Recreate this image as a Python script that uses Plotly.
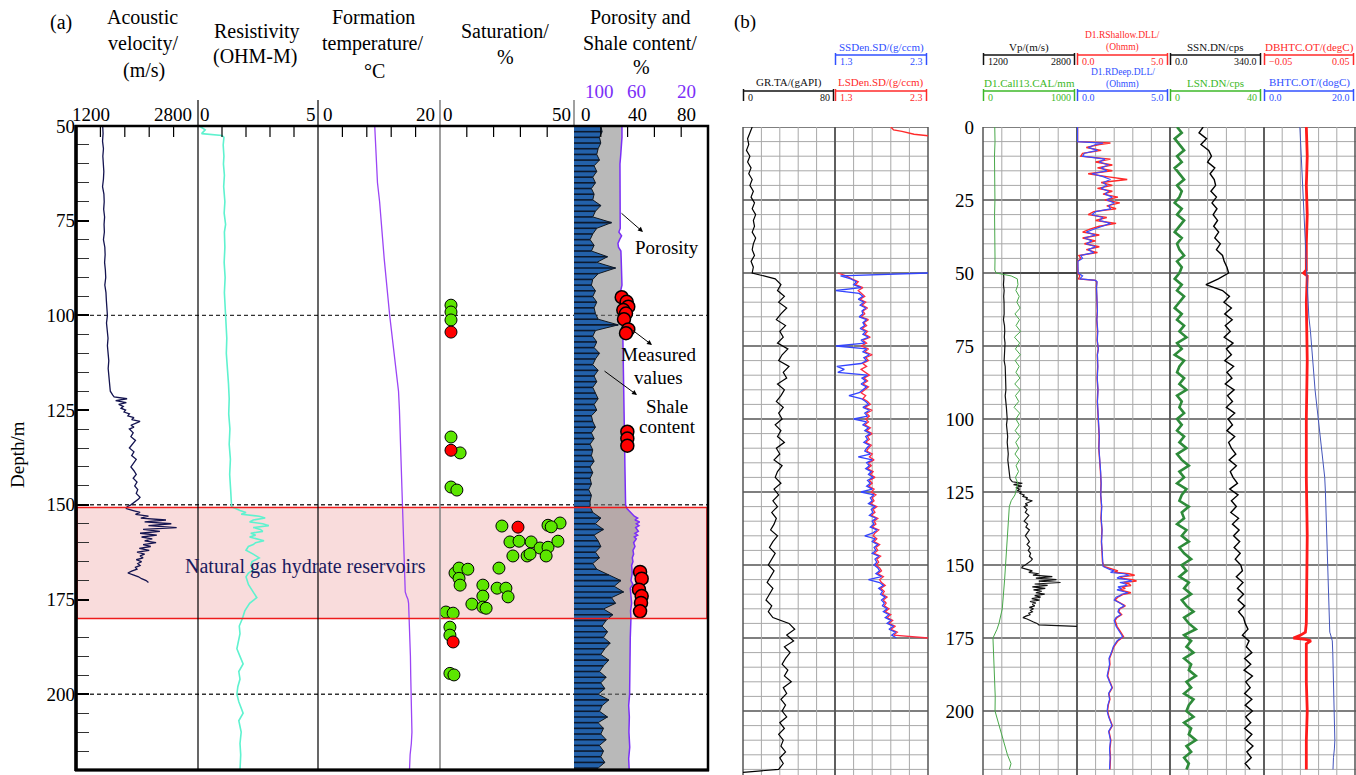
import plotly.graph_objects as go

W, H = 1356, 775
def px(x): return x / W
def py(y): return 1 - y / H
SERIF = "Liberation Serif"

# ===================== DATA =====================
# Acoustic velocity (m/s) vs depth (m) -- panel (a) track 1, also Vp in panel (b)
ac_depth = (list(range(50, 119, 2)) + [119] + [120 + 0.5 * i for i in range(21)]
            + list(range(131, 149)) + [148.5 + 0.5 * i for i in range(45)])
ac_vel = [1550, 1555, 1548, 1560, 1552, 1558, 1565, 1560, 1548, 1566, 1570, 1563, 1575, 1568, 1572,
          1560, 1578, 1582, 1575, 1585, 1590, 1578, 1593, 1598, 1605, 1612, 1600, 1615, 1620, 1612,
          1625, 1630, 1622, 1635, 1640, 1645,
          1650, 1660, 1680, 1700, 1870, 1720, 1860, 1760, 1820, 1790, 1850, 1830, 1900, 1880, 1960,
          1930, 2040, 1980, 1920, 1960, 1900,
          1950, 1920, 1980, 1940, 1900, 1960, 1930, 1990, 1950, 1920, 1960, 1990, 1950, 2000, 1970,
          2010, 1990, 2040,
          2020, 1990, 1950, 1920, 1870, 1860, 1950, 2040, 1980, 2150, 2050, 2380, 2100, 2450, 2150,
          2520, 2080, 2300, 2040, 2260, 2060, 2200, 2100, 2250, 2080, 2180, 2030, 2160, 2000, 2100,
          2040, 2080, 1990, 2060, 2010, 2040, 1980, 2000, 1930, 1880, 1950, 2020, 2060, 2120, 2150]

# Resistivity (Ohm-m): deep (blue, also panel (a)) and shallow (red)
res_depth = ([0, 5, 5.5, 6] + list(range(7, 27)) + list(range(27, 46))
             + [46, 48, 50, 51, 52, 52.5, 53, 55, 58, 60, 63, 66, 70, 73, 76, 78]
             + [82, 86, 90, 94, 98, 102, 106, 110, 114, 118, 122, 126, 130, 134, 138, 142, 146, 149]
             + [150.5, 151.5, 152, 152.5, 153, 153.5, 154, 154.5, 155, 155.5, 156, 156.5, 157, 157.5,
                158, 158.5, 159, 159.5, 160, 160.5, 161]
             + [162, 163, 164, 165, 166, 167, 168, 169, 170, 171]
             + [172.5, 174.5, 176, 178, 180, 182, 184, 186, 188, 190, 192, 194, 196, 198, 200, 202,
                205, 207, 210, 213, 216, 220])
res_deep = ([0.03, 0.03, 1.4, 1.0]
            + [0.6, 1.1, 0.4, 0.3, 1.5, 1.2, 1.7, 1.3, 1.6, 0.8, 1.4, 1.8, 1.4, 1.6, 1.3, 1.7, 1.5, 1.9, 1.6, 2.0]
            + [1.7, 1.8, 1.0, 0.8, 1.4, 1.2, 1.8, 1.3, 0.9, 0.5, 1.0, 0.4, 0.8, 0.5, 1.0, 0.6, 0.9, 0.2, 0.3]
            + [0.05, 0.05, 0.06, 0.3, 0.15, 1.0, 1.08, 1.05, 1.08, 1.06, 1.1, 1.07, 1.12, 1.09, 1.15, 1.1]
            + [1.12, 1.09, 1.13, 1.1, 1.14, 1.16, 1.2, 1.18, 1.24, 1.27, 1.3, 1.28, 1.33, 1.3, 1.35, 1.32, 1.36, 1.38]
            + [1.4, 1.75, 2.0, 1.8, 2.55, 2.8, 2.3, 2.15, 2.7, 2.95, 2.3, 2.6, 2.7, 2.2, 2.4, 2.15, 2.5, 2.75, 2.4, 2.3, 2.1]
            + [2.0, 2.3, 2.55, 2.25, 2.2, 2.35, 2.1, 2.0, 2.05, 2.1]
            + [2.25, 2.45, 2.15, 1.95, 1.85, 1.72, 1.75, 1.68, 1.62, 1.75, 1.88, 1.7, 1.75, 1.66, 1.62, 1.7,
               1.88, 1.7, 1.8, 1.75, 1.78, 1.75])
res_shallow = ([0.03, 0.03, 1.8, 1.2]
               + [0.5, 1.3, 0.3, 0.2, 1.8, 1.0, 1.9, 1.1, 1.9, 0.6, 1.6, 2.7, 1.3, 1.9, 1.1, 1.9, 1.4, 2.2, 1.5, 2.3]
               + [1.6, 2.1, 0.9, 0.6, 1.6, 1.0, 2.1, 1.2, 0.7, 0.3, 1.2, 0.3, 1.0, 0.4, 1.2, 0.5, 1.1, 0.1, 0.2]
               + [0.03, 0.03, 0.05, 0.15, 0.08, 0.95, 1.06, 1.04, 1.07, 1.05, 1.09, 1.06, 1.1, 1.08, 1.14, 1.09]
               + [1.11, 1.08, 1.12, 1.09, 1.13, 1.15, 1.19, 1.17, 1.23, 1.26, 1.29, 1.27, 1.32, 1.29, 1.34, 1.31, 1.35, 1.37]
               + [1.45, 1.9, 2.2, 2.0, 2.8, 3.1, 2.5, 2.3, 3.0, 3.2, 2.5, 2.8, 2.9, 2.4, 2.6, 2.3, 2.6, 2.9, 2.5, 2.35, 2.2]
               + [2.05, 2.35, 2.6, 2.3, 2.25, 2.4, 2.15, 2.05, 2.1, 2.15]
               + [2.3, 2.5, 2.2, 1.98, 1.87, 1.75, 1.77, 1.7, 1.65, 1.77, 1.9, 1.72, 1.77, 1.68, 1.64, 1.72,
                  1.9, 1.72, 1.82, 1.77, 1.8, 1.77])

# Formation temperature (degC) -- panel (a) and BHTC in panel (b)
temp_depth = [0, 10, 20, 30, 40, 50, 55, 60, 65, 70, 75, 80, 85, 90, 95, 100, 105, 110, 115, 120, 125,
              130, 135, 140, 145, 150, 155, 160, 165, 170, 173, 174, 175, 176, 180, 185, 190, 195, 200,
              205, 210, 213, 216, 220]
temp_val = [7.8, 8.1, 8.4, 8.7, 8.95, 9.25, 9.35, 9.5, 9.75, 10.1, 10.4, 10.6, 10.85, 11.1, 11.45, 11.75,
            12.1, 12.5, 12.9, 13.2, 13.35, 13.45, 13.55, 13.65, 13.8, 13.9, 14.0, 14.05, 14.1, 14.2,
            14.3, 14.5, 14.75, 14.85, 14.95, 15.05, 15.15, 15.2, 15.25, 15.35, 15.4, 15.3, 15.1, 15.0]

# Saturation (%)
sat_green_depth = [97.3, 99.1, 101.2, 132.1, 136.3, 145.3, 146.1, 155.6, 155.4, 154.8, 155.8,
                   159.8, 159.6, 159.8, 161.4, 161.2, 159.6, 163.5, 163.5, 163.0, 163.5,
                   168.0, 166.7, 167.0, 166.7, 169.4, 171.2, 171.2, 172.0, 172.0, 174.3, 174.1,
                   176.2, 177.0, 177.3, 178.3, 178.6, 182.3, 184.4, 194.5, 194.9]
sat_green_val = [4.1, 4.1, 4.1, 4.1, 7.5, 4.1, 6.3, 23.1, 40.3, 44.8, 41.5,
                 26.1, 29.5, 34.0, 37.3, 40.3, 44.0, 27.2, 32.5, 33.6, 39.6,
                 5.6, 7.1, 10.4, 22.0, 7.1, 7.5, 16.0, 21.3, 24.6, 25.4, 16.0,
                 11.9, 16.0, 17.2, 2.2, 4.9, 3.7, 3.7, 3.7, 5.2]
sat_red_depth = [104.4, 135.6, 155.9, 186.2]
sat_red_val = [4.1, 4.1, 29.1, 4.9]

# Porosity (%) -- blue bars
por_depth = [50 + 1.5 * i for i in range(114)]
por_val = [20, 21, 19, 20, 18, 17, 19,
           15, 17, 14, 16, 13, 15, 14,
           20, 16, 14, 28, 17, 14,
           12, 15, 13, 25, 17, 31, 18,
           14, 13, 16, 14, 17, 15, 16,
           18, 33, 16, 14, 17, 15, 19,
           16, 14, 18, 15, 17, 14, 16,
           18, 15, 17, 13, 14, 16, 13,
           15, 12, 14, 13, 15, 12, 14,
           12, 13, 11, 13, 12, 12, 14,
           20, 16, 22, 15, 18, 20, 16,
           19, 14, 17, 26, 35, 30, 37,
           28, 31, 22, 29, 24, 21, 25,
           22, 27, 23, 20, 26, 22, 19,
           24, 20, 23, 18, 26, 21, 19,
           25, 18, 22, 20, 24, 19, 22,
           20, 23, 18]
# Shale content curve (purple) on the 0-100 track scale
shale_depth = [50, 53, 56, 58, 60, 65, 70, 75, 77, 78, 79, 80, 81, 82, 83, 85, 88, 90, 92, 94, 96, 100,
               105, 110, 115, 120, 125, 130, 135, 140, 145, 150, 151, 152, 153, 153.5, 154, 154.5, 155,
               155.5, 156, 157, 157.5, 158, 158.5, 159, 160, 161, 162, 163, 164, 165, 166, 168, 170,
               171, 172, 174, 176, 178, 180, 185, 190, 195, 200, 203, 206, 210, 214, 217, 220]
shale_val = [35.8, 35.8, 35.5, 34.8, 34.3, 34.3, 34.2, 34.3, 34.5, 33.5, 35.5, 34.0, 32.8, 33.2, 35.0,
             35.2, 35.3, 35.3, 35.8, 34.5, 35.6, 36.2, 36.5, 36.7, 37.0, 37.2, 37.4, 37.5, 37.8, 38.0,
             38.3, 38.5, 39.5, 42.5, 45.0, 47.5, 45.5, 49.0, 46.5, 48.5, 46.0, 48.0, 45.5, 47.5, 45.0,
             46.5, 44.5, 45.5, 44.0, 44.5, 43.5, 44.0, 43.0, 43.5, 42.5, 44.0, 42.0, 42.5, 43.0, 42.2,
             42.5, 42.0, 41.8, 41.2, 41.5, 40.8, 41.3, 41.0, 41.6, 40.8, 41.2]
# Measured values (red dots in porosity track)
meas_depth = [95.2, 96.4, 97.7, 98.6, 99.5, 101.0, 103.7, 104.7, 130.7, 132.5, 134.4,
              167.7, 169.5, 172.4, 174.1, 175.9, 178.1]
meas_val = [35.6, 39.3, 40.5, 36.8, 38.8, 37.3, 40.5, 38.8, 39.8, 39.8, 39.8,
            49.3, 50.5, 48.5, 50.5, 50.0, 49.3]

# ---- panel (b) logs ----
log_depth = list(range(0, 221, 2))
gr_val = [8, 6, 4, 5, 3, 6, 4, 7, 5, 8, 6, 9, 7, 10, 8, 11, 9, 10, 8, 11, 9, 8, 10, 7, 9, 8,
          28, 33, 30, 36, 31, 38, 33, 29, 37, 32, 35, 30, 39, 34, 31, 40, 35, 38, 30, 36, 33, 29, 35, 31, 34,
          28, 33, 30, 36, 29, 32, 27, 34, 30, 28, 33, 27, 31, 26, 30, 25, 29, 27, 24, 30, 26, 23, 28, 25, 22,
          27, 24, 21, 26, 23, 20, 25, 22, 26,
          40, 45, 38, 44, 36, 41, 37, 34, 39, 36, 42, 35, 38, 33, 37, 34, 38, 32, 36, 31, 35, 33, 37, 32, 35, 31]
ssn_val = [120, 105, 132, 112, 140, 150, 136, 162, 145, 160, 165, 148, 168, 152, 170, 156, 172, 158, 176,
           162, 182, 168, 190, 196, 206, 212,
           175, 130, 190, 215, 195, 222, 198, 225, 200, 218, 196, 228, 204, 222, 198, 230, 206, 224, 200,
           232, 208, 226, 204, 234, 210,
           226, 206, 234, 212, 222, 238, 214, 240, 218, 228, 244, 216, 246, 222, 240, 220, 248, 226, 250,
           230, 252, 232, 254, 236, 256,
           262, 240, 264, 244, 266, 246, 270, 248, 266,
           272, 282, 262, 286, 276, 296, 270, 292, 268, 298, 274, 290, 270, 296, 272, 298, 274, 292, 270,
           296, 276, 300, 278, 294, 272, 290]
lsn_val = [3, 5, 2, 4, 6, 3, 5, 2, 4, 6, 3, 5, 4, 2, 5, 3, 6, 4, 2, 5, 3, 4, 6, 3, 5, 4,
           2, 5, 3, 6, 4, 2, 5, 3, 6, 4, 7, 3, 5, 2, 6, 4, 3, 6, 4, 7, 3, 5, 4, 6, 3,
           5, 3, 6, 4, 7, 3, 5, 8, 4, 6, 3, 7, 5, 4, 8, 5, 6, 3, 7, 5, 8, 4, 6, 9, 5,
           7, 4, 8, 6, 9, 5, 7, 10, 6,
           8, 11, 6, 9, 7, 10, 6, 9, 8, 11, 7, 9, 6, 10, 8, 7, 10, 6, 9, 8, 11, 7, 9, 6, 8, 7]

dens_depth = [50] + list(range(51, 176))
lsden_val = [1.33, 1.42, 1.48, 1.55, 1.52, 1.60, 1.55, 1.58, 1.62, 1.57, 1.63, 1.59, 1.65, 1.60, 1.62, 1.58,
             1.66, 1.61, 1.64, 1.59, 1.65, 1.62, 1.68, 1.60, 1.64, 1.58, 1.66, 1.62, 1.70, 1.63, 1.66, 1.60,
             1.64, 1.58, 1.62, 1.67, 1.61, 1.65, 1.60, 1.66, 1.62, 1.58, 1.63, 1.60, 1.65, 1.68, 1.62, 1.70,
             1.64, 1.67, 1.63,
             1.66, 1.62, 1.68, 1.64, 1.70, 1.65, 1.67, 1.63, 1.69, 1.66, 1.64, 1.70, 1.67, 1.72, 1.66, 1.69,
             1.65, 1.71, 1.68, 1.73, 1.67, 1.70, 1.66, 1.72, 1.69,
             1.74, 1.70, 1.72, 1.68, 1.75, 1.71, 1.73, 1.69, 1.76, 1.72, 1.74, 1.70, 1.77, 1.73, 1.71, 1.75,
             1.72, 1.78, 1.74, 1.76, 1.72, 1.79, 1.75, 1.77, 1.74,
             1.78, 1.80, 1.76, 1.82, 1.78, 1.80, 1.84, 1.79, 1.83, 1.81, 1.86, 1.82, 1.85, 1.83, 1.88, 1.84,
             1.90, 1.86, 1.92, 1.88, 1.95, 1.90, 1.97, 1.93, 2.30]
ssden_val = [2.30, 1.36, 1.47, 1.53, 1.50, 1.58, 1.31, 1.56, 1.60, 1.55, 1.61, 1.57, 1.63, 1.59, 1.60, 1.56,
             1.64, 1.60, 1.62, 1.57, 1.63, 1.60, 1.66, 1.58, 1.62, 1.31, 1.64, 1.60, 1.67, 1.61, 1.64, 1.58,
             1.32, 1.40, 1.33, 1.65, 1.59, 1.63, 1.58, 1.64, 1.60, 1.56, 1.45, 1.58, 1.63, 1.66, 1.60, 1.67,
             1.62, 1.65, 1.50,
             1.64, 1.60, 1.66, 1.62, 1.68, 1.63, 1.65, 1.61, 1.67, 1.64, 1.62, 1.68, 1.55, 1.70, 1.64, 1.67,
             1.63, 1.69, 1.66, 1.71, 1.65, 1.68, 1.64, 1.70, 1.58,
             1.72, 1.68, 1.70, 1.66, 1.73, 1.69, 1.71, 1.67, 1.74, 1.70, 1.72, 1.68, 1.75, 1.71, 1.62, 1.73,
             1.70, 1.76, 1.72, 1.74, 1.70, 1.77, 1.73, 1.75, 1.72,
             1.76, 1.78, 1.74, 1.80, 1.66, 1.78, 1.82, 1.77, 1.81, 1.79, 1.84, 1.80, 1.83, 1.81, 1.86, 1.82,
             1.88, 1.84, 1.90, 1.86, 1.93, 1.88, 1.95, 1.91, 1.96]
lsden_top_depth = [0, 1, 1.5, 2, 2.5, 3]
lsden_top_val = [1.90, 1.93, 2.02, 2.08, 2.15, 2.30]

cal_depth = [0, 5, 10, 15, 20, 25, 30, 35, 40, 45, 49, 50, 51] + list(range(52, 125, 2)) + \
            [126, 128, 130, 135, 140, 145, 150, 155, 160, 165, 170, 172, 175, 178, 182, 186, 190,
             195, 200, 205, 210, 215, 218, 220]
cal_val = [125, 128, 122, 126, 124, 127, 123, 126, 125, 128, 126, 140, 300,
           365, 372, 350, 385, 360, 395, 340, 388, 352, 400, 335, 390, 345, 398, 342, 385, 350, 392, 338,
           396, 345, 380, 330, 390, 350, 385, 342, 392, 348, 380, 340, 388, 352, 378, 345, 370, 355,
           340, 300, 280, 270, 262, 255, 240, 230, 220, 205, 170, 149, 106, 110, 120, 125, 128,
           130, 128, 170, 220, 260, 298, 280]

db_depth = [0, 10, 20, 30, 40, 49, 50, 51, 60, 80, 100, 120, 140, 160, 170, 173, 174, 175, 175.5, 176,
            177, 190, 200, 210, 220]
db_val = [-0.004, -0.003, -0.004, -0.003, -0.004, -0.004, -0.007, -0.003, -0.004, -0.003, -0.004, -0.004,
          -0.003, -0.004, -0.004, -0.005, -0.010, -0.018, -0.005, 0.001, -0.004, -0.004, -0.003, -0.004,
          -0.004]

# ===================== FIGURE =====================
fig = go.Figure()
BLUE, RED, GREEN, BLACK = "#3050ff", "#ff2a2a", "#3cb828", "#111111"
PURPLE = "#7B2FF7"

def line_tr(x, y, xa, ya, color, width, **kw):
    fig.add_trace(go.Scatter(x=x, y=y, xaxis=xa, yaxis=ya, mode="lines",
                             line=dict(color=color, width=width), hoverinfo="skip", **kw))

# ---- panel (a) ----
line_tr(ac_vel, ac_depth, "x", "y", "#141450", 1.3)
line_tr(res_deep, res_depth, "x2", "y", "#5ff2cf", 1.6)
line_tr(temp_val, temp_depth, "x3", "y", "#9B45F5", 1.3)
fig.add_trace(go.Scatter(x=sat_green_val, y=sat_green_depth, xaxis="x4", yaxis="y", mode="markers",
                         marker=dict(size=12, color="#5CE600", line=dict(color="black", width=1))))
fig.add_trace(go.Scatter(x=sat_red_val, y=sat_red_depth, xaxis="x4", yaxis="y", mode="markers",
                         marker=dict(size=12, color="#FF0000", line=dict(color="black", width=1))))
# porosity track
fig.add_trace(go.Scatter(x=[0] + shale_val + [0], y=[shale_depth[0]] + shale_depth + [shale_depth[-1]],
                         xaxis="x5", yaxis="y", mode="lines", fill="toself",
                         fillcolor="rgba(128,128,128,0.55)", line=dict(color=PURPLE, width=1.5)))
fig.add_trace(go.Scatter(x=por_val, y=por_depth, xaxis="x5", yaxis="y", mode="lines", fill="tozerox",
                         fillcolor="#2361AA", line=dict(color="#101820", width=1)))
sx, sy = [], []
for d, p in zip(por_depth, por_val):
    sx += [0, p, None]
    sy += [d, d, None]
line_tr(sx, sy, "x5", "y", "#0d1a2e", 1.6)
fig.add_trace(go.Scatter(x=meas_val, y=meas_depth, xaxis="x5", yaxis="y", mode="markers",
                         marker=dict(size=13, color="#FF0000", line=dict(color="black", width=1.5))))

# ---- panel (b) ----
line_tr(gr_val + [0], log_depth + [221], "x6", "y3", "#000000", 1.2)
line_tr(lsden_top_val, lsden_top_depth, "x7", "y3", RED, 1.5)
line_tr(lsden_val, dens_depth, "x7", "y3", "#ff2a40", 1.3)
line_tr(ssden_val, dens_depth, "x7", "y3", "#3344ff", 1.3)
line_tr([2800] + ac_vel + [2800], [50] + ac_depth + [171], "x8", "y2", "#111111", 1.2)
line_tr(cal_val, cal_depth, "x9", "y2", "#49a84a", 1.0)
line_tr(res_shallow, res_depth, "x10", "y2", "#ff2a2a", 1.4)
line_tr(res_deep, res_depth, "x10", "y2", "#3a4cff", 1.2)
line_tr(lsn_val, log_depth, "x12", "y2", "#2e8b3a", 2.6)
line_tr(ssn_val, log_depth, "x11", "y2", "#000000", 1.4)
line_tr(db_val, db_depth, "x13", "y2", "#ff1a1a", 2.8)
line_tr(temp_val, temp_depth, "x14", "y2", "#4455bb", 1.0)

# ---- axes ----
def hx(d0, d1, rng, anchor):
    return dict(domain=[px(d0), px(d1)], range=rng, anchor=anchor, visible=False, fixedrange=True)

axes = dict(
    xaxis=hx(76, 198, [1200, 2800], "y"),
    xaxis2=hx(198, 318, [0, 5], "y"),
    xaxis3=hx(318, 440, [0, 20], "y"),
    xaxis4=hx(440, 574, [0, 50], "y"),
    xaxis5=hx(574, 708, [0, 100], "y"),
    xaxis6=hx(743, 835, [0, 80], "y3"),
    xaxis7=hx(835, 928, [1.3, 2.3], "y3"),
    xaxis8=hx(983, 1077, [1200, 2800], "y2"),
    xaxis9=hx(983, 1077, [0, 1000], "y2"),
    xaxis10=hx(1077, 1170, [0, 5], "y2"),
    xaxis11=hx(1170, 1264, [0, 340], "y2"),
    xaxis12=hx(1170, 1264, [0, 40], "y2"),
    xaxis13=hx(1264, 1356, [-0.05, 0.05], "y2"),
    xaxis14=hx(1264, 1356, [0, 20], "y2"),
)
tf = dict(family=SERIF, size=19, color="black")
axes["yaxis"] = dict(domain=[py(770), py(126)], range=[220, 50], anchor="x",
                     tickmode="array", tickvals=[50, 75, 100, 125, 150, 175, 200],
                     ticks="inside", ticklen=13, tickwidth=1.5, tickcolor="black",
                     minor=dict(tickmode="array", tickvals=[d for d in range(55, 220, 5) if d % 25],
                                ticks="inside", ticklen=13, tickwidth=1.3, tickcolor="#333"),
                     showgrid=False, zeroline=False, showline=False, tickfont=tf, fixedrange=True)
bmax = (775 - 127) / 2.92
axes["yaxis2"] = dict(domain=[0, py(127)], range=[bmax, 0], anchor="x8",
                      tickmode="array", tickvals=[0, 25, 50, 75, 100, 125, 150, 175, 200],
                      ticks="", showgrid=False, zeroline=False, showline=False, tickfont=tf,
                      ticklabelstandoff=8, fixedrange=True)
axes["yaxis3"] = dict(domain=[0, py(127)], range=[bmax, 0], anchor="x6", visible=False, fixedrange=True)

# ---- shapes ----
shapes = []
def pline(x0, y0, x1, y1, color, width, dash=None, layer="above"):
    shapes.append(dict(type="line", xref="paper", yref="paper", x0=px(x0), y0=py(y0), x1=px(x1), y1=py(y1),
                       line=dict(color=color, width=width, dash=dash), layer=layer))

# pink reservoir band (fill below, border above)
shapes.append(dict(type="rect", xref="paper", yref="y", x0=px(76), x1=px(708), y0=150.7, y1=180,
                   fillcolor="#F9DCDC", line=dict(width=0), layer="below"))
shapes.append(dict(type="rect", xref="paper", yref="y", x0=px(77), x1=px(707), y0=150.7, y1=180,
                   line=dict(color="#ee1c1c", width=1.5), layer="above"))
# dashed depth lines
for d in [100, 150, 200]:
    shapes.append(dict(type="line", xref="paper", yref="y", x0=px(76), x1=px(708), y0=d, y1=d,
                       line=dict(color="#333333", width=1.4, dash="4px,3px"), layer="below"))
# track boundaries (extend above frame)
pline(198, 100, 198, 770, "black", 1.2)
pline(318, 100, 318, 770, "black", 1.2)
pline(440, 100, 440, 770, "#808080", 1.5)
pline(574, 100, 574, 126, "#808080", 1.5)
# top ticks of each track
tick_sets = [("x", [1520, 1840, 2160, 2480]), ("x2", [1, 2, 3, 4]), ("x3", [4, 8, 12, 16]),
             ("x4", [10, 20, 30, 40]), ("x5", [20, 40, 60, 80])]
for xr, vals in tick_sets:
    for v in vals:
        shapes.append(dict(type="line", xref=xr, yref="paper", x0=v, x1=v, y0=py(126), y1=py(137),
                           line=dict(color="black", width=1.2), layer="above"))
# frame of panel (a)
shapes.append(dict(type="rect", xref="paper", yref="paper", x0=px(76), x1=px(708), y0=py(770), y1=py(126),
                   line=dict(color="black", width=2.5), layer="above"))
pline(76, 125, 76, 771, "black", 3.5)
pline(75, 770, 709, 770, "black", 3)

# panel (b) grid
for gx0, gx1 in [(743, 928), (983, 1356)]:
    for d in range(0, 221, 5):
        major = d % 25 == 0
        shapes.append(dict(type="line", xref="paper", yref="y2", x0=px(gx0), x1=px(gx1), y0=d, y1=d,
                           line=dict(color="#555555" if major else "#a8a8a8", width=1.5 if major else 1),
                           layer="below"))
for tx0, tx1 in [(743, 835), (835, 928), (983, 1077), (1077, 1170), (1170, 1264), (1264, 1355)]:
    for k in range(6):
        xx = tx0 + k * (tx1 - tx0) / 5
        edge = k in (0, 5)
        shapes.append(dict(type="line", xref="paper", yref="paper", x0=px(xx), x1=px(xx), y0=py(127), y1=0,
                           line=dict(color="#555555" if edge else "#a8a8a8", width=1.5 if edge else 1),
                           layer="below"))

# panel (b) header bars
TOPB, BOTB = 55, 91
hdr = [
    (["SSDen.SD/(g/ccm)"], BLUE, 835, 927, TOPB, "1.3", "2.3"),
    (["GR.TA/(gAPI)"], BLACK, 743, 834, BOTB, "0", "80"),
    (["LSDen.SD/(g/ccm)"], RED, 835, 927, BOTB, "1.3", "2.3"),
    (["Vp/(m/s)"], BLACK, 983, 1075, TOPB, "1200", "2800"),
    (["D1.RShallow.DLL/", "(Ohmm)"], RED, 1077, 1168, TOPB, "0.0", "5.0"),
    (["SSN.DN/cps"], BLACK, 1170, 1261, TOPB, "0.0", "340.0"),
    (["DBHTC.OT/(degC)"], RED, 1264, 1354, TOPB, "\u22120.05", "0.05"),
    (["D1.Call13.CAL/mm"], GREEN, 983, 1075, BOTB, "0", "1000"),
    (["D1.RDeep.DLL/", "(Ohmm)"], BLUE, 1077, 1168, BOTB, "0.0", "5.0"),
    (["LSN.DN/cps"], GREEN, 1170, 1261, BOTB, "0", "40"),
    (["BHTC.OT/(dogC)"], BLUE, 1264, 1354, BOTB, "0.0", "20.0"),
]
annotations = []
def ann(text, x, y, size, color="black", xanchor="center", **kw):
    annotations.append(dict(text=text, x=px(x), y=py(y), xref="paper", yref="paper", showarrow=False,
                            xanchor=xanchor, yanchor="middle", font=dict(family=SERIF, size=size, color=color),
                            **kw))

for names, col, x0, x1, by, lo, hi in hdr:
    pline(x0, by, x1, by, col, 1.5)
    pline(x0 + 0.5, by - 2, x0 + 0.5, by + 10, col, 1.5)
    pline(x1 - 0.5, by - 2, x1 - 0.5, by + 10, col, 1.5)
    if len(names) == 1:
        ann(names[0], (x0 + x1) / 2, by - 8, 11, col)
    else:
        ann(names[0], (x0 + x1) / 2, by - 19.5, 9.5, col)
        ann(names[1], (x0 + x1) / 2, by - 7, 9.5, col)
    ann(lo, x0 + 3, by + 6.5, 10, col, xanchor="left")
    ann(hi, x1 - 2, by + 6.5, 10, col, xanchor="right")

# panel (a) header texts
for t, x, y in [("(a)", 61, 22), ("Acoustic", 142, 17), ("velocity/", 143, 44), ("(m/s)", 144, 71),
                ("Resistivity", 257, 31), ("(OHM-M)", 255, 57), ("Formation", 373, 17),
                ("temperature/", 372, 44), ("\u00b0C", 374, 71), ("Saturation/", 505, 31), ("%", 505, 57),
                ("Porosity and", 640, 17), ("Shale content/", 640, 43), ("%", 641, 67)]:
    ann(t, x, y, 20)
for t, x in [("1200", 91), ("2800", 173), ("0", 205), ("5", 311), ("0", 328), ("20", 425), ("0", 448),
             ("50", 561), ("0", 586), ("40", 637), ("80", 686)]:
    ann(t, x, 114, 19)
for t, x in [("100", 599), ("60", 636), ("20", 686)]:
    ann(t, x, 91, 19, PURPLE)
ann("(b)", 745, 22, 19)
ann("Depth/m", 18, 455, 19, textangle=-90)
ann("Natural gas hydrate reservoirs", 305, 566, 20, "#1a1a60")
ann("Porosity", 667, 247, 19)
ann("Measured", 658, 355, 19)
ann("values", 658, 377, 19)
ann("Shale", 667, 406, 19)
ann("content", 667, 426, 19)

def arrow(hx_, hy_, tx_, ty_, color="black"):
    annotations.append(dict(text="", x=px(hx_), y=py(hy_), xref="paper", yref="paper", showarrow=True,
                            ax=tx_ - hx_, ay=ty_ - hy_, axref="pixel", ayref="pixel",
                            arrowhead=2, arrowsize=1, arrowwidth=1, arrowcolor=color))
arrow(643, 232, 620, 212)
arrow(652, 345, 631, 329)
arrow(637, 395, 603, 370)

fig.update_layout(width=W, height=H, margin=dict(l=0, r=0, t=0, b=0, pad=0), template="none",
                  paper_bgcolor="white", plot_bgcolor="rgba(0,0,0,0)", showlegend=False,
                  shapes=shapes, annotations=annotations, **axes)

fig.write_html("out.html")
